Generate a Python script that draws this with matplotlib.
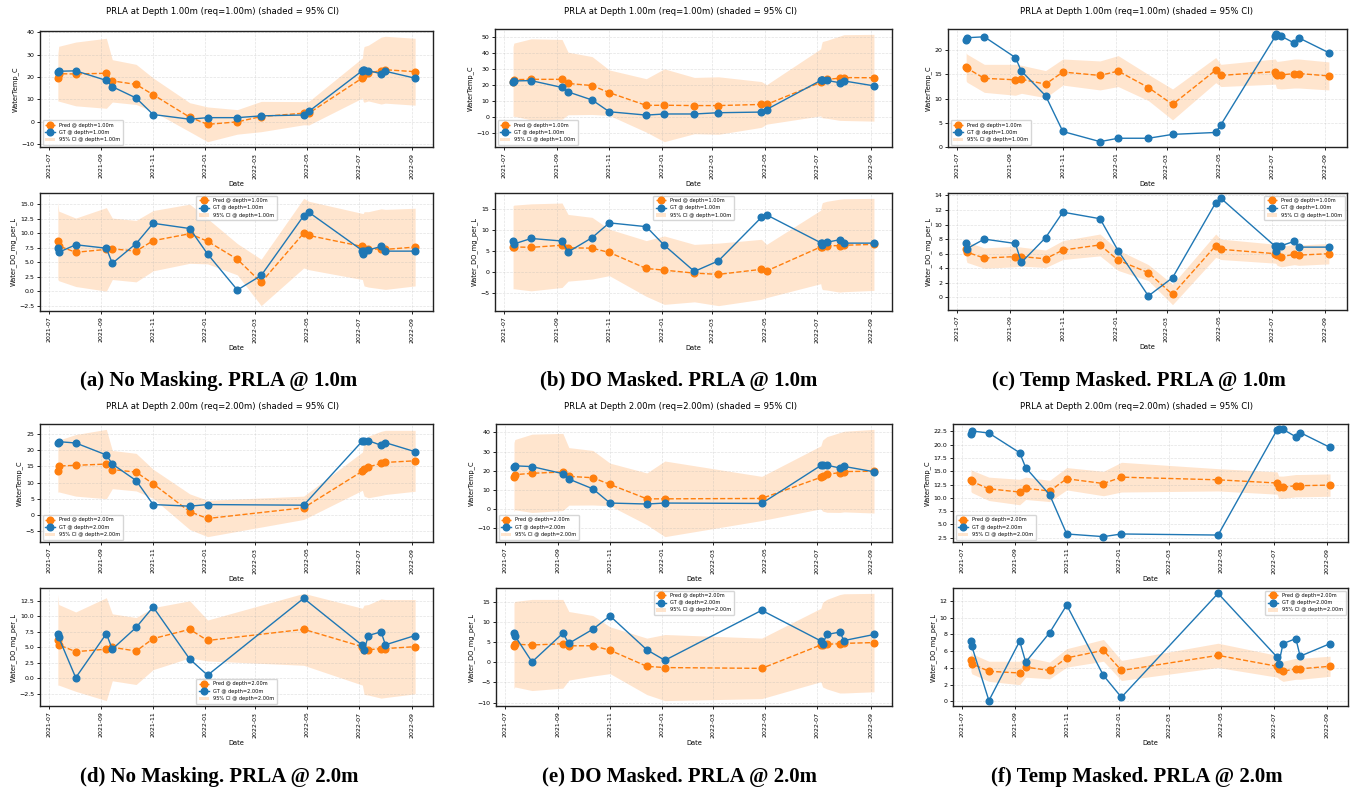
import numpy as np
import pandas as pd
import matplotlib
matplotlib.use("Agg")
import matplotlib.pyplot as plt
import matplotlib.dates as mdates

# sampling dates at each depth
dates_1m = pd.to_datetime([
    "2021-07-12", "2021-07-13", "2021-08-02", "2021-09-07", "2021-09-14",
    "2021-10-12", "2021-11-01", "2021-12-14", "2022-01-04", "2022-02-08",
    "2022-03-08", "2022-04-27", "2022-05-03", "2022-07-05", "2022-07-06",
    "2022-07-07", "2022-07-12", "2022-07-27", "2022-08-01", "2022-09-05"])
dates_2m = pd.to_datetime([
    "2021-07-12", "2021-07-13", "2021-08-02", "2021-09-07", "2021-09-14",
    "2021-10-12", "2021-11-01", "2021-12-14", "2022-01-04", "2022-04-27",
    "2022-07-05", "2022-07-07", "2022-07-12", "2022-07-27", "2022-08-01",
    "2022-09-05"])

# ground truth
gt_temp_1m = [22.1, 22.6, 22.8, 18.5, 15.7, 10.6, 3.2, 1.1, 1.8, 1.8, 2.6, 3.0, 4.6, 22.9, 23.3, 23.1, 22.9, 21.5, 22.6, 19.5]
gt_do_1m = [7.4, 6.7, 8.0, 7.4, 4.8, 8.2, 11.7, 10.8, 6.4, 0.2, 2.7, 13.0, 13.6, 7.0, 6.4, 7.0, 7.1, 7.7, 6.9, 6.9]
gt_temp_2m = [22.1, 22.6, 22.2, 18.5, 15.7, 10.6, 3.2, 2.7, 3.2, 3.0, 22.8, 22.9, 22.9, 21.5, 22.3, 19.5]
gt_do_2m = [7.2, 6.6, 0.1, 7.2, 4.7, 8.2, 11.5, 3.1, 0.5, 12.9, 5.3, 4.5, 6.9, 7.5, 5.4, 6.9]

# predictions and 95% CI half-widths -- no masking
pred_temp_1m_nomask = [19.8, 21.5, 21.4, 21.7, 18.3, 16.7, 12.1, 2.0, -1.2, -0.1, 2.3, 3.8, 3.8, 19.6, 20.6, 21.2, 21.8, 22.9, 23.3, 22.4]
ci_temp_1m_nomask = [10.5, 12.3, 14.3, 15.7, 9.5, 9.0, 7.5, 6.5, 7.8, 5.5, 6.8, 5.2, 5.3, 9.0, 11.5, 12.5, 12.5, 15.0, 15.0, 15.0]
pred_do_1m_nomask = [8.7, 7.8, 6.7, 7.2, 7.3, 6.9, 8.7, 9.9, 8.6, 5.5, 1.5, 10.0, 9.6, 7.7, 7.4, 7.3, 7.2, 7.3, 7.2, 7.6]
ci_do_1m_nomask = [6.7, 6.0, 5.9, 7.2, 5.3, 5.3, 5.2, 5.1, 3.9, 2.7, 4.0, 6.0, 5.9, 5.7, 6.0, 6.4, 6.5, 6.9, 6.9, 6.7]
pred_temp_2m_nomask = [13.4, 15.1, 15.3, 15.7, 14.0, 13.2, 9.6, 1.0, -1.1, 2.2, 13.5, 14.3, 14.8, 15.9, 16.2, 16.7]
ci_temp_2m_nomask = [6.4, 8.0, 9.5, 10.7, 5.9, 5.8, 4.5, 5.5, 5.6, 3.6, 5.9, 8.5, 9.5, 9.9, 9.9, 9.4]
pred_do_2m_nomask = [6.2, 5.4, 4.3, 4.7, 5.0, 4.4, 6.4, 7.9, 6.1, 7.9, 5.1, 4.6, 4.6, 4.8, 4.8, 5.1]
ci_do_2m_nomask = [7.3, 6.5, 6.4, 8.3, 5.4, 5.4, 5.0, 4.6, 3.3, 5.8, 6.2, 7.2, 7.3, 8.0, 7.9, 7.6]

# DO masked
pred_temp_1m_domask = [22.2, 23.4, 23.6, 23.6, 21.0, 19.7, 15.2, 7.2, 7.3, 7.1, 7.1, 7.8, 7.8, 21.7, 22.8, 23.4, 23.6, 24.3, 24.7, 24.6]
ci_temp_1m_domask = [22.0, 23.0, 25.5, 25.1, 19.7, 18.2, 14.3, 16.8, 22.9, 17.7, 18.1, 14.4, 12.4, 21.1, 23.0, 24.0, 24.5, 26.5, 27.0, 27.3]
pred_do_1m_domask = [5.9, 6.0, 5.9, 6.4, 5.8, 5.7, 4.7, 0.9, 0.5, -0.2, -0.5, 0.7, 0.3, 6.0, 6.1, 6.2, 6.3, 6.3, 6.4, 6.6]
ci_do_1m_domask = [9.8, 9.9, 10.3, 10.0, 7.9, 7.3, 5.5, 6.6, 8.1, 6.8, 7.4, 7.1, 6.3, 8.7, 9.8, 10.3, 10.5, 11.0, 11.0, 10.9]
pred_temp_2m_domask = [16.7, 18.0, 18.7, 19.4, 17.1, 16.4, 12.9, 5.4, 5.4, 5.6, 16.6, 17.5, 18.1, 19.1, 19.6, 19.8]
ci_temp_2m_domask = [18.0, 18.3, 20.4, 20.1, 15.0, 14.2, 11.1, 13.5, 19.7, 11.5, 16.4, 18.5, 19.7, 20.8, 21.0, 21.8]
pred_do_2m_domask = [4.1, 4.5, 4.3, 4.6, 4.1, 4.1, 3.0, -1.0, -1.3, -1.5, 4.3, 4.4, 4.5, 4.6, 4.7, 4.9]
ci_do_2m_domask = [10.6, 10.6, 11.3, 11.0, 8.5, 7.5, 5.8, 7.0, 8.2, 7.5, 9.1, 10.5, 11.1, 12.2, 12.3, 12.2]

# temperature masked
pred_temp_1m_tmask = [16.6, 16.3, 14.2, 13.9, 14.0, 13.0, 15.5, 14.8, 15.7, 12.3, 8.8, 15.9, 14.8, 15.6, 15.1, 14.9, 14.9, 15.2, 15.2, 14.7]
ci_temp_1m_tmask = [2.9, 2.9, 2.9, 3.2, 2.9, 2.8, 2.7, 3.0, 3.2, 2.7, 3.2, 2.6, 2.3, 2.6, 2.8, 2.8, 2.9, 3.0, 3.0, 2.9]
pred_do_1m_tmask = [6.7, 6.2, 5.4, 5.6, 5.6, 5.3, 6.5, 7.2, 5.1, 3.4, 0.4, 7.1, 6.6, 6.0, 5.9, 5.8, 5.6, 5.9, 5.8, 6.0]
ci_do_1m_tmask = [1.5, 1.4, 1.4, 1.4, 1.3, 1.2, 1.3, 1.5, 1.4, 1.1, 1.4, 1.6, 1.4, 1.3, 1.3, 1.4, 1.4, 1.4, 1.4, 1.4]
pred_temp_2m_tmask = [13.3, 13.1, 11.7, 11.1, 11.8, 11.3, 13.6, 12.7, 13.9, 13.4, 12.8, 12.0, 12.0, 12.3, 12.3, 12.4]
ci_temp_2m_tmask = [2.1, 2.1, 2.2, 2.4, 2.1, 2.0, 2.1, 2.3, 2.8, 2.1, 2.1, 2.1, 2.1, 2.1, 2.1, 2.1]
pred_do_2m_tmask = [4.9, 4.5, 3.6, 3.4, 4.1, 3.7, 5.2, 6.1, 3.7, 5.5, 4.2, 3.9, 3.6, 3.9, 3.9, 4.2]
ci_do_2m_tmask = [1.3, 1.2, 1.2, 1.4, 1.2, 1.0, 1.1, 1.3, 1.2, 1.45, 1.3, 1.2, 1.2, 1.25, 1.25, 1.2]

captions = ["(a) No Masking. PRLA @ 1.0m", "(b) DO Masked. PRLA @ 1.0m",
            "(c) Temp Masked. PRLA @ 1.0m", "(d) No Masking. PRLA @ 2.0m",
            "(e) DO Masked. PRLA @ 2.0m", "(f) Temp Masked. PRLA @ 2.0m"]

W, H = 1353, 792
fig = plt.figure(figsize=(W / 100, H / 100), dpi=100)

ORANGE = "#ff7f0e"
BLUE = "#1f77b4"


def add_ax(l, t, r, b):
    return fig.add_axes([l / W, 1 - b / H, (r - l) / W, (b - t) / H])


def draw(ax, dates, pred, ci, gt, depth, ylabel, loc):
    pred = np.asarray(pred)
    ci = np.asarray(ci)
    band = ax.fill_between(dates, pred - ci, pred + ci, color=ORANGE, alpha=0.2,
                           lw=0, label=f"95% CI @ depth={depth}")
    p, = ax.plot(dates, pred, "o--", color=ORANGE, ms=4.8, lw=1.0,
                 label=f"Pred @ depth={depth}")
    g, = ax.plot(dates, gt, "o-", color=BLUE, ms=4.8, lw=1.0,
                 label=f"GT @ depth={depth}")
    ax.legend(handles=[p, g, band], loc=loc, fontsize=3.6, framealpha=0.8,
              borderpad=0.5, labelspacing=0.45)
    ax.set_ylabel(ylabel, fontsize=4.8, labelpad=2)
    ax.set_xlabel("Date", fontsize=4.8, labelpad=2)
    ax.xaxis.set_major_locator(mdates.MonthLocator(bymonth=[1, 3, 5, 7, 9, 11]))
    ax.xaxis.set_major_formatter(mdates.DateFormatter("%Y-%m"))
    ax.tick_params(labelsize=4.5, length=2.5, width=0.6, pad=1.5)
    ax.tick_params(axis="x", labelrotation=90)
    ax.grid(True, ls="--", lw=0.5, alpha=0.35)
    for s in ax.spines.values():
        s.set_linewidth(1.0)
        s.set_color("#222222")


# (left, top, right, bottom) of the two axes in each panel, in pixels
panels = [
    ((40, 31, 433, 147), (40, 193, 433, 311), 222, 12, 219, 381),
    ((495, 29, 892, 147), (495, 193, 892, 311), 680, 12, 679, 381),
    ((948, 29, 1347, 147), (948, 193, 1347, 310), 1137, 12, 1139, 381),
    ((40, 424, 433, 542), (40, 588, 433, 706), 222, 407, 219, 777),
    ((496, 424, 892, 542), (496, 588, 892, 706), 680, 407, 679, 777),
    ((953, 424, 1348, 542), (953, 588, 1348, 706), 1137, 407, 1137, 777),
]

series = [
    (dates_1m, "1.00m", pred_temp_1m_nomask, ci_temp_1m_nomask, gt_temp_1m,
     pred_do_1m_nomask, ci_do_1m_nomask, gt_do_1m, "upper center"),
    (dates_1m, "1.00m", pred_temp_1m_domask, ci_temp_1m_domask, gt_temp_1m,
     pred_do_1m_domask, ci_do_1m_domask, gt_do_1m, "upper center"),
    (dates_1m, "1.00m", pred_temp_1m_tmask, ci_temp_1m_tmask, gt_temp_1m,
     pred_do_1m_tmask, ci_do_1m_tmask, gt_do_1m, "upper right"),
    (dates_2m, "2.00m", pred_temp_2m_nomask, ci_temp_2m_nomask, gt_temp_2m,
     pred_do_2m_nomask, ci_do_2m_nomask, gt_do_2m, "lower center"),
    (dates_2m, "2.00m", pred_temp_2m_domask, ci_temp_2m_domask, gt_temp_2m,
     pred_do_2m_domask, ci_do_2m_domask, gt_do_2m, "upper center"),
    (dates_2m, "2.00m", pred_temp_2m_tmask, ci_temp_2m_tmask, gt_temp_2m,
     pred_do_2m_tmask, ci_do_2m_tmask, gt_do_2m, "upper right"),
]

for (top, bot, tx, ty, cx, cy), (dates, depth, pt, ct, gt_t, pd_, cd, gt_d, loc), cap in zip(panels, series, captions):
    ax1 = add_ax(*top)
    draw(ax1, dates, pt, ct, gt_t, depth, "WaterTemp_C", "lower left")
    ax2 = add_ax(*bot)
    draw(ax2, dates, pd_, cd, gt_d, depth, "Water_DO_mg_per_L", loc)
    fig.text(tx / W, 1 - ty / H,
             f"PRLA at Depth {depth} (req={depth}) (shaded = 95% CI)",
             ha="center", va="center", fontsize=6.1)
    fig.text(cx / W, 1 - cy / H, cap, ha="center", va="center",
             fontsize=15, fontweight="bold", family="Liberation Serif")

fig.savefig("out.png", dpi=100)
